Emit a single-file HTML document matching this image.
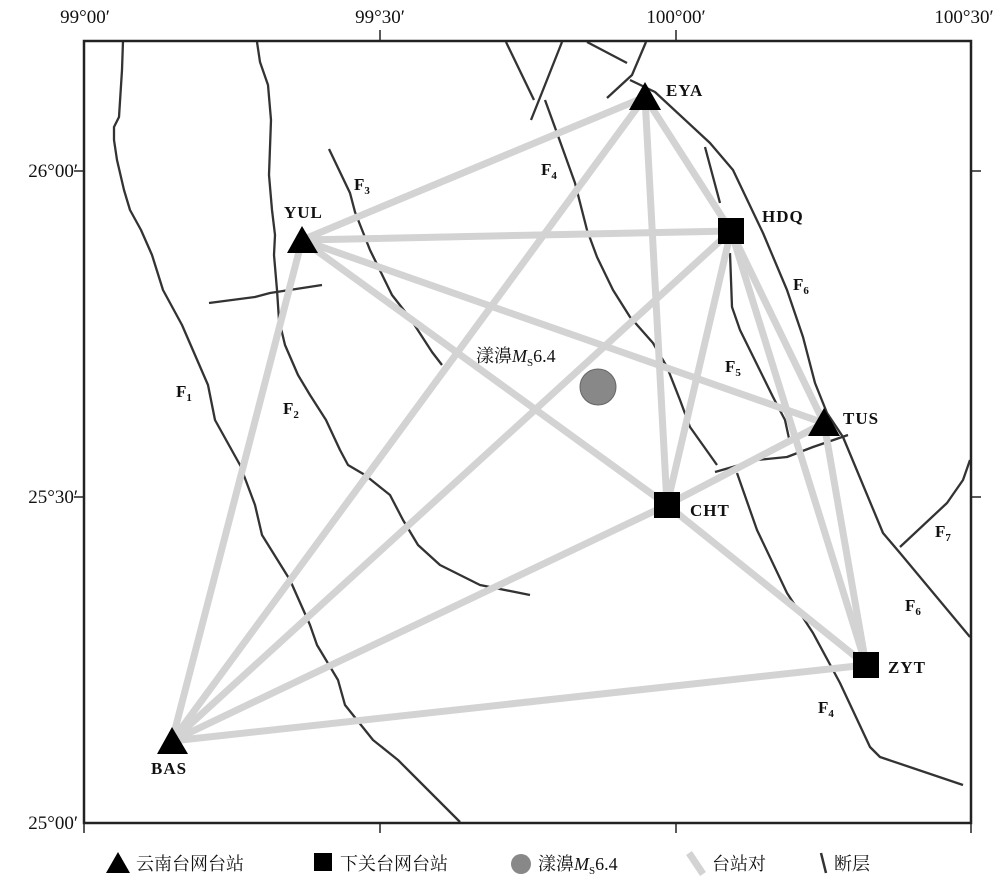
<!DOCTYPE html>
<html><head><meta charset="utf-8"><style>
html,body{margin:0;padding:0;background:#fff;}
svg{display:block}
.t{font-family:"Liberation Serif","Noto Serif CJK SC",serif;font-size:18px;fill:#111}
.tk{font-size:19px}
.s{font-family:"Liberation Serif",serif;font-weight:bold;font-size:17px;fill:#111;letter-spacing:1px}
.f{font-family:"Liberation Serif",serif;font-weight:bold;font-size:17px;fill:#111}
.sub{font-size:11px}
.fl{fill:none;stroke:#333;stroke-width:2.3;stroke-linejoin:round}
.e{stroke:#d3d3d3;stroke-width:7;stroke-linecap:round}
</style></head><body>
<svg width="1000" height="887" viewBox="0 0 1000 887" xmlns="http://www.w3.org/2000/svg">
<rect width="1000" height="887" fill="#fff"/>
<g class="fl">
<polyline points="123,41 122,70 119,117 114,127 114,140 117,160 124,190 130,210 141,230 152,255 163,290 182,325 195,355 208,385 215,420 240,465 255,505 262,535 290,580 310,625 317,645 338,680 345,705 373,740 398,760 413,775 438,800 460,822"/>
<polyline points="257,42 260,62 268,85 271,120 269,175 272,210 275,235 274,255 277,290 279,320 285,345 298,375 310,395 326,420 340,450 348,465 365,475 390,495 403,520 418,545 440,565 480,585 530,595"/>
<polyline points="209,303 255,297 270,293 322,285"/>
<polyline points="329,149 350,193 355,212 370,250 392,295 410,318 432,352 442,365"/>
<polyline points="506,42 534,100"/>
<polyline points="562,42 541,95 531,120"/>
<polyline points="587,42 627,63"/>
<polyline points="646,42 632,75 607,98"/>
<polyline points="630,80 655,92 710,143 733,170 763,233 787,290 803,337 815,383 827,413 843,437 883,533 900,553 970,637"/>
<polyline points="545,100 557,133 575,183 587,230 597,257 613,290 630,317 653,343 667,367 680,400 690,427 717,465"/>
<polyline points="737,473 757,530 787,593 813,633 840,683 870,747 880,757 963,785"/>
<polyline points="715,472 757,460 787,457 813,447 848,435"/>
<polyline points="705,147 720,203"/>
<polyline points="730,253 732,307 740,330 773,397 785,420 790,443"/>
<polyline points="900,547 947,503 963,480 970,460"/>
</g>
<g class="e">
<line x1="645" y1="97" x2="302" y2="240"/>
<line x1="645" y1="97" x2="172" y2="741"/>
<line x1="645" y1="97" x2="667" y2="505"/>
<line x1="645" y1="97" x2="731" y2="231"/>
<line x1="302" y1="240" x2="731" y2="231"/>
<line x1="302" y1="240" x2="824" y2="423"/>
<line x1="302" y1="240" x2="667" y2="505"/>
<line x1="302" y1="240" x2="172" y2="741"/>
<line x1="731" y1="231" x2="172" y2="741"/>
<line x1="731" y1="231" x2="667" y2="505"/>
<line x1="731" y1="231" x2="824" y2="423"/>
<line x1="731" y1="231" x2="866" y2="665"/>
<line x1="824" y1="423" x2="667" y2="505"/>
<line x1="824" y1="423" x2="866" y2="665"/>
<line x1="667" y1="505" x2="866" y2="665"/>
<line x1="667" y1="505" x2="172" y2="741"/>
<line x1="172" y1="741" x2="866" y2="665"/>
</g>
<rect x="84" y="41" width="887" height="782" fill="none" stroke="#222" stroke-width="2.5"/>
<g stroke="#222" stroke-width="1.5">
<line x1="380" y1="30" x2="380" y2="41"/><line x1="676" y1="30" x2="676" y2="41"/>
<line x1="380" y1="823" x2="380" y2="833"/><line x1="676" y1="823" x2="676" y2="833"/>
<line x1="84" y1="823" x2="84" y2="833"/><line x1="971" y1="823" x2="971" y2="833"/>
<line x1="74" y1="171" x2="84" y2="171"/><line x1="74" y1="497" x2="84" y2="497"/>
<line x1="971" y1="171" x2="981" y2="171"/><line x1="971" y1="497" x2="981" y2="497"/>
</g>
<g class="t tk">
<text x="85" y="23" text-anchor="middle">99°00′</text>
<text x="380" y="23" text-anchor="middle">99°30′</text>
<text x="676" y="23" text-anchor="middle">100°00′</text>
<text x="964" y="23" text-anchor="middle">100°30′</text>
<text x="78" y="177" text-anchor="end">26°00′</text>
<text x="78" y="503" text-anchor="end">25°30′</text>
<text x="78" y="829" text-anchor="end">25°00′</text>
</g>
<circle cx="598" cy="387" r="18" fill="#888" stroke="#666" stroke-width="1"/>
<text class="t" x="476" y="362">漾濞<tspan font-style="italic">M</tspan><tspan class="sub" dy="4">S</tspan><tspan dy="-4">6.4</tspan></text>
<g fill="#000">
<polygon points="645,82 629,110 661,110"/>
<polygon points="302,226 287,253 318,253"/>
<polygon points="824,408 808,436 840,436"/>
<polygon points="172,727 157,754 188,754"/>
<rect x="718" y="218" width="26" height="26"/>
<rect x="654" y="492" width="26" height="26"/>
<rect x="853" y="652" width="26" height="26"/>
</g>
<g class="s">
<text x="666" y="96">EYA</text>
<text x="762" y="222">HDQ</text>
<text x="284" y="218">YUL</text>
<text x="843" y="424">TUS</text>
<text x="690" y="516">CHT</text>
<text x="888" y="673">ZYT</text>
<text x="151" y="774">BAS</text>
</g>
<g class="f">
<text x="354" y="190">F<tspan class="sub" dy="4">3</tspan></text>
<text x="541" y="175">F<tspan class="sub" dy="4">4</tspan></text>
<text x="793" y="290">F<tspan class="sub" dy="4">6</tspan></text>
<text x="725" y="372">F<tspan class="sub" dy="4">5</tspan></text>
<text x="176" y="397">F<tspan class="sub" dy="4">1</tspan></text>
<text x="283" y="414">F<tspan class="sub" dy="4">2</tspan></text>
<text x="935" y="537">F<tspan class="sub" dy="4">7</tspan></text>
<text x="905" y="611">F<tspan class="sub" dy="4">6</tspan></text>
<text x="818" y="713">F<tspan class="sub" dy="4">4</tspan></text>
</g>
<polygon points="118,852 106,873 130,873" fill="#000"/>
<text class="t" x="136" y="870">云南台网台站</text>
<rect x="314" y="853" width="18" height="18" fill="#000"/>
<text class="t" x="340" y="870">下关台网台站</text>
<circle cx="521" cy="864" r="10" fill="#888"/>
<text class="t" x="538" y="870">漾濞<tspan font-style="italic">M</tspan><tspan class="sub" dy="4">S</tspan><tspan dy="-4">6.4</tspan></text>
<line x1="689" y1="853" x2="703" y2="874" stroke="#d3d3d3" stroke-width="7"/>
<text class="t" x="712" y="870">台站对</text>
<line x1="821" y1="853" x2="826" y2="873" stroke="#333" stroke-width="2.5"/>
<text class="t" x="834" y="870">断层</text>
</svg>
</body></html>
